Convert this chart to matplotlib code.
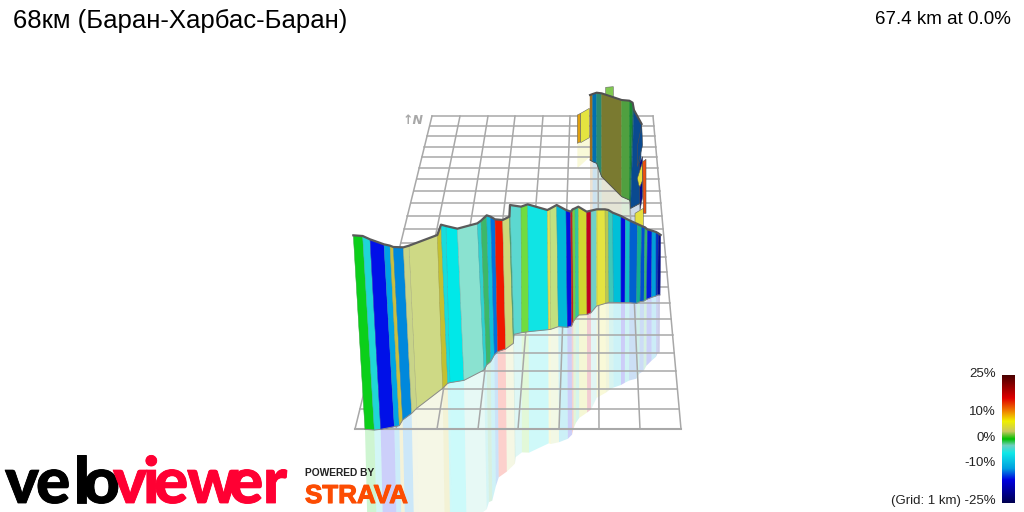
import numpy as np
import matplotlib
matplotlib.use('Agg')
import matplotlib.pyplot as plt
from matplotlib.colors import LinearSegmentedColormap
import matplotlib.patheffects as pe

# 标题和文字
title = "68км (Баран-Харбас-Баран)"
summary = "67.4 km at 0.0%"
grade_labels = ["25%", "10%", "0%", "-10%", "(Grid: 1 km) -25%"]
grade_label_y = [374, 412, 438, 463, 501]

# 色标
bar_pos = [0, 0.18, 0.27, 0.39, 0.45, 0.50, 0.56, 0.64, 0.72, 0.82, 1]
bar_colors = ['#000050', '#0000e0', '#00a0e0', '#10e8e8', '#70d0c0', '#00c000',
              '#c8c860', '#f0f000', '#f08000', '#e00000', '#4a0000']

# 地面网格（投影后的坐标）
grid_top_x = [432, 460, 488, 515, 543, 570, 598, 626, 653]
grid_bottom_x = [355, 396, 437, 478, 518, 559, 599, 640, 681]
grid_y = [116, 126, 136, 147, 157, 168, 179, 191, 203, 216, 229, 243, 257, 272,
          287, 303, 319, 335, 353, 371, 389, 409, 429]

# 近处的一段
near_top_x = [40, 68, 90, 132, 150, 160, 190, 207, 292, 303, 318, 352, 412, 423, 440, 452,
              465, 488, 508, 510, 543, 563, 622, 630, 650, 678, 692, 698, 705, 715, 740,
              753, 770, 795, 805, 818, 843, 856, 870, 892, 905, 915, 922, 936, 948, 955, 962]
near_top_y = [106, 108, 118, 133, 137, 141, 142, 137, 105, 74, 78, 86, 70, 62, 46, 50,
              58, 60, 50, 15, 20, 13, 30, 26, 15, 30, 35, 28, 25, 20, 35,
              32, 28, 28, 30, 38, 48, 55, 62, 72, 78, 82, 88, 92, 96, 100, 105]
near_bot_x = [75, 103, 122, 163, 178, 188, 215, 230, 308, 323, 330, 372, 432, 440, 452, 463,
              473, 497, 520, 522, 545, 566, 625, 632, 655, 682, 695, 700, 707, 717, 741,
              753, 770, 797, 807, 820, 843, 855, 868, 890, 900, 912, 920, 935, 948, 953, 960]
near_bot_y = [688, 690, 688, 680, 677, 660, 640, 625, 565, 550, 548, 541, 510, 495, 485, 465,
              455, 447, 430, 403, 398, 395, 389, 388, 380, 382, 378, 365, 355, 345, 344,
              338, 318, 310, 307, 307, 308, 308, 308, 310, 305, 303, 298, 292, 288, 285, 285]
near_colors = ['#0bcf1a', '#1fd6d6', '#0010e8', '#00a4e4', '#c8c040', '#0088dc', '#c8d488',
               '#ced985', '#c4c030', '#18dcdc', '#00e8e8', '#8ae2d0', '#30d0d0', '#3cb868',
               '#10c0d8', '#0070e0', '#f01800', '#cdd878', '#3aa870', '#5cd8d0', '#70dc40',
               '#10e4e4', '#e0e050', '#c0e080', '#00b8d8', '#0010e0', '#c02020', '#70d040',
               '#30c8a0', '#d0d830', '#c00020', '#70d0c8', '#e4e440', '#b8c850', '#40c8b8',
               '#00c0d8', '#0008e0', '#10c0c8', '#0060d0', '#10b090', '#0050d0', '#30b870',
               '#0018e0', '#00a0d8', '#0030c8', '#000a90']

# 远处的一段
far_top_x = [90, 98, 110, 125, 185, 208, 218, 222, 245]
far_top_y = [45, 42, 38, 40, 60, 62, 68, 90, 132]
far_bot_x = [90, 98, 110, 125, 185, 208, 210, 212, 240]
far_bot_y = [240, 245, 250, 290, 350, 360, 362, 385, 370]
far_colors = ['#a07020', '#0070b0', '#2a8a70', '#7a7a30', '#50a040', '#1a8a30', '#1a6a50', '#0a4a90']

# 远处的小块
bits_top_x = [52, 62, 137, 225]
bits_top_y = [105, 100, 22, 400]
bits_end_x = [62, 88, 160, 250]
bits_end_y = [100, 85, 20, 385]
bits_high = [85, 88, 30, 60]
bits_colors = ['#e0a010', '#e4e440', '#80c850', '#e4e040']

# 盖在深蓝色上面的小块
over_x = [[232, 245, 248, 232], [238, 248, 248, 240], [232, 248, 248, 240, 236], [248, 258, 258, 250]]
over_y = [[200, 135, 195, 260], [250, 230, 350, 390], [295, 245, 300, 320, 315], [245, 238, 400, 400]]
over_colors = ['#0a4a90', '#000a90', '#e4e040', '#f05010']

logo_letters = list("veloviewer")
logo_x = [5, 36, 73, 83, 113, 143, 154, 187, 229, 263]
logo_colors = ['#000000'] * 4 + ['#ff0033'] * 6


def near(x, y):
    return np.array(x) / 3 + 340, np.array(y) / 3 + 200


def far(x, y):
    return np.array(x) / 3 + 560, np.array(y) / 3 + 80


def strips(ax, tx, ty, bx, by, colors, z):
    for i, c in enumerate(colors):
        ax.fill([tx[i], tx[i + 1], bx[i + 1], bx[i]], [ty[i], ty[i + 1], by[i + 1], by[i]],
                facecolor=c, edgecolor=c, lw=0.3, zorder=z)


def shadows(ax, tx, ty, bx, by, colors, z):
    sx = bx + 0.4 * (bx - tx)
    sy = by + 0.95 * (by - ty)
    for i, c in enumerate(colors):
        ax.fill([bx[i], bx[i + 1], sx[i + 1], sx[i]], [by[i], by[i + 1], sy[i + 1], sy[i]],
                facecolor=c, edgecolor='none', alpha=0.2, zorder=z)


fig = plt.figure(figsize=(10.24, 5.12), dpi=100)
ax = fig.add_axes([0, 0, 1, 1])
ax.set_xlim(0, 1024)
ax.set_ylim(512, 0)
ax.axis('off')
plt.rcParams['font.family'] = ['Liberation Sans', 'DejaVu Sans']

# 倒影
ntx, nty = near(near_top_x, near_top_y)
nbx, nby = near(near_bot_x, near_bot_y)
ftx, fty = far(far_top_x, far_top_y)
fbx, fby = far(far_bot_x, far_bot_y)
shadows(ax, ntx, nty, nbx, nby, near_colors, 1)
shadows(ax, ftx, fty, fbx, fby, far_colors, 1)
px, py = far([52, 62, 88], [190, 190, 172])
ax.fill([px[0], px[2], px[2], px[0]], [py[0], py[2], py[2] + 20, py[0] + 25],
        facecolor='#e4e440', alpha=0.2, edgecolor='none', zorder=1)

# 网格
for a, b in zip(grid_top_x, grid_bottom_x):
    ax.plot([a, b], [grid_y[0], grid_y[-1]], color='#a8a8a8', lw=1.1, zorder=2)
for y in grid_y:
    t = (y - grid_y[0]) / (grid_y[-1] - grid_y[0])
    ax.plot([432 + t * (355 - 432), 653 + t * (681 - 653)], [y, y],
            color='#a8a8a8', lw=1.5 if y == grid_y[-1] else 1.1, zorder=2)
ax.text(413, 120, "↑N", fontsize=9, color='#a8a8a8', fontweight='bold', style='italic',
        ha='center', va='center', family=['DejaVu Sans'], zorder=2)

# 远处的立面
for i, c in enumerate(bits_colors):
    x, y = far([bits_top_x[i], bits_end_x[i]], [bits_top_y[i], bits_end_y[i]])
    ax.fill([x[0], x[1], x[1], x[0]], [y[0], y[1], y[1] + bits_high[i] / 3, y[0] + bits_high[i] / 3],
            facecolor=c, edgecolor='#666666', lw=0.4, zorder=3)
strips(ax, ftx, fty, fbx, fby, far_colors, 4)
for xs, ys, c in zip(over_x, over_y, over_colors):
    x, y = far(xs, ys)
    ax.fill(x, y, facecolor=c, edgecolor='#505050', lw=0.4, zorder=5)
ax.plot(ftx, fty, color='#505050', lw=1.5, zorder=5)
ax.plot(fbx, fby, color='#505050', lw=0.6, zorder=5)

# 近处的立面
strips(ax, ntx, nty, nbx, nby, near_colors, 6)
for i in range(len(ntx)):
    ax.plot([ntx[i], nbx[i]], [nty[i], nby[i]], color='#707070', lw=0.3, alpha=0.5, zorder=7)
ax.plot(ntx, nty, color='#5a5a5a', lw=1.6, zorder=8)
ax.plot(nbx, nby, color='#8a8a8a', lw=0.7, zorder=7)

# 标题
ax.text(13, 21, title, fontsize=18.5, ha='left', va='center', color='black')
ax.text(1011, 20, summary, fontsize=13.5, ha='right', va='center', color='black')

# 色标
cmap = LinearSegmentedColormap.from_list('grade', list(zip(bar_pos, bar_colors)))
grad = np.linspace(1, 0, 256).reshape(-1, 1)
ax.imshow(grad, cmap=cmap, extent=[1002, 1015, 503, 375], aspect='auto', zorder=3)
ax.set_xlim(0, 1024)
ax.set_ylim(512, 0)
for label, y in zip(grade_labels, grade_label_y):
    ax.text(996, y, label, fontsize=9.5, ha='right', va='center', color='#222222')

# 标志
for ch, x, c in zip(logo_letters, logo_x, logo_colors):
    ax.text(x, 503, ch, fontsize=46, fontweight=900, color=c, ha='left', va='baseline',
            family=['Lato', 'Liberation Sans'], zorder=9,
            path_effects=[pe.withStroke(linewidth=0.6, foreground=c)])
ax.text(305, 473.5, "POWERED BY", fontsize=7.4, fontweight='bold', color='#222222',
        ha='left', va='center', zorder=9)
ax.text(305, 503, "STRAVA", fontsize=18.7, fontweight='bold', color='#fc4c02',
        ha='left', va='baseline', zorder=9,
        path_effects=[pe.withStroke(linewidth=0.8, foreground='#fc4c02')])

fig.savefig('out.png', dpi=100)
